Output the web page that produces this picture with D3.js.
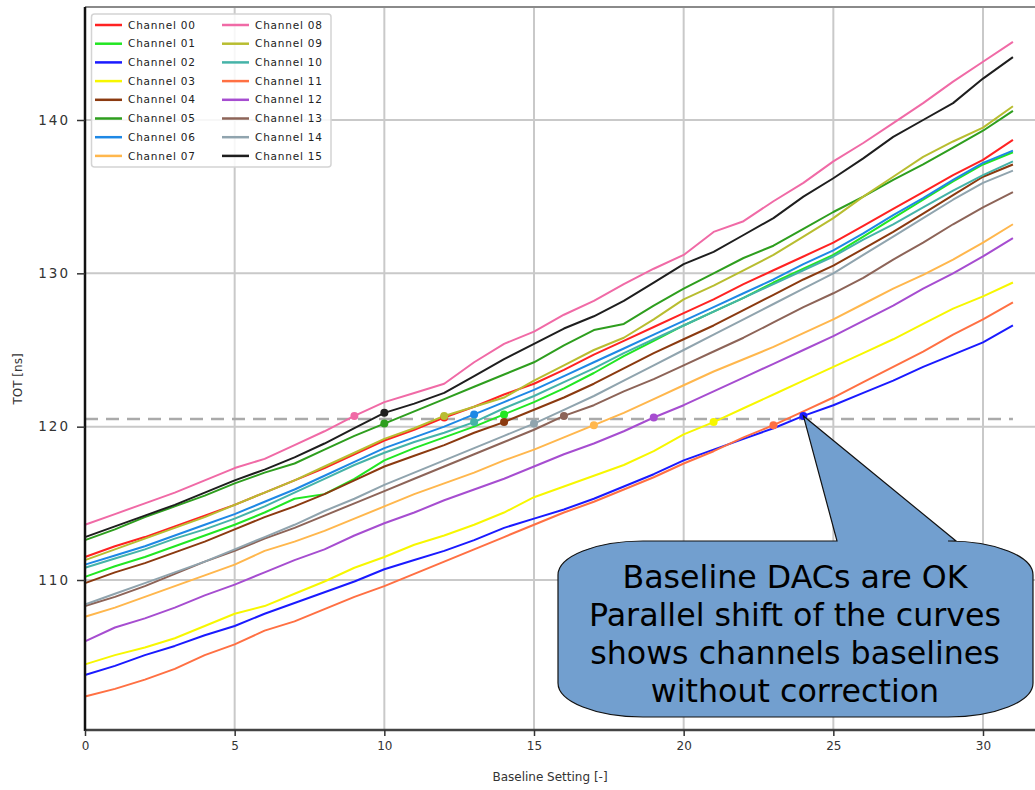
<!DOCTYPE html>
<html>
<head>
<meta charset="utf-8">
<script src="https://cdn.jsdelivr.net/npm/d3@7"></script>
<style>
  body { margin: 0; background: #fff; }
  svg { display: block; }
</style>
</head>
<body>
<div id="chart"></div>
<script>
// Baseline setting (x) and tick labels
const xTicks = [0, 5, 10, 15, 20, 25, 30];
const yTicks = [110, 120, 130, 140];
const targetTOT = 120.5;

const channelNames = ['Channel 00', 'Channel 01', 'Channel 02', 'Channel 03', 'Channel 04', 'Channel 05',
  'Channel 06', 'Channel 07', 'Channel 08', 'Channel 09', 'Channel 10', 'Channel 11',
  'Channel 12', 'Channel 13', 'Channel 14', 'Channel 15'];

const channelColors = ['#ff2222', '#22e622', '#1a1aff', '#f7f700', '#8b3a10', '#2e9e1e',
  '#1e88e5', '#ffb74d', '#f06aa6', '#b8bd30', '#45b3a8', '#ff7043',
  '#a64dd0', '#8d6458', '#90a4ae', '#1e1e1e'];

// TOT [ns] per baseline setting 0..31
const ch00 = [111.5, 112.2, 112.8, 113.5, 114.2, 114.9, 115.7, 116.5, 117.3, 118.2, 119.1, 119.8, 120.6, 121.3, 122.1, 122.8,
  123.7, 124.7, 125.6, 126.5, 127.4, 128.3, 129.3, 130.2, 131.1, 132.0, 133.1, 134.2, 135.3, 136.4, 137.4, 138.7];
const ch01 = [110.2, 110.9, 111.5, 112.2, 112.9, 113.6, 114.4, 115.3, 115.6, 116.6, 117.8, 118.6, 119.3, 120.0, 120.8, 121.6,
  122.5, 123.5, 124.6, 125.6, 126.6, 127.5, 128.4, 129.4, 130.3, 131.2, 132.4, 133.6, 134.8, 136.0, 137.1, 137.9];
const ch02 = [103.8, 104.4, 105.1, 105.7, 106.4, 107.0, 107.8, 108.5, 109.2, 109.9, 110.7, 111.3, 111.9, 112.6, 113.4, 114.0,
  114.6, 115.3, 116.1, 116.9, 117.8, 118.5, 119.2, 119.9, 120.7, 121.4, 122.2, 123.0, 123.9, 124.7, 125.5, 126.6];
const ch03 = [104.5, 105.1, 105.6, 106.2, 107.0, 107.8, 108.3, 109.1, 109.9, 110.8, 111.5, 112.3, 112.9, 113.6, 114.4, 115.4,
  116.1, 116.8, 117.5, 118.4, 119.5, 120.3, 121.2, 122.1, 123.0, 123.9, 124.8, 125.7, 126.7, 127.7, 128.5, 129.4];
const ch04 = [109.8, 110.5, 111.1, 111.8, 112.5, 113.3, 114.1, 114.8, 115.6, 116.5, 117.4, 118.1, 118.8, 119.6, 120.3, 121.1,
  121.9, 122.8, 123.8, 124.8, 125.7, 126.6, 127.6, 128.6, 129.6, 130.5, 131.6, 132.7, 133.9, 135.1, 136.3, 137.1];
const ch05 = [112.6, 113.3, 114.1, 114.8, 115.5, 116.3, 117.0, 117.6, 118.5, 119.4, 120.2, 121.0, 121.8, 122.6, 123.4, 124.2,
  125.3, 126.3, 126.7, 127.9, 129.0, 130.0, 131.0, 131.8, 132.9, 134.0, 135.0, 136.1, 137.1, 138.2, 139.3, 140.6];
const ch06 = [111.0, 111.6, 112.2, 112.9, 113.6, 114.3, 115.1, 115.9, 116.8, 117.7, 118.6, 119.3, 120.0, 120.8, 121.6, 122.4,
  123.3, 124.2, 125.1, 126.0, 126.9, 127.8, 128.7, 129.6, 130.6, 131.5, 132.6, 133.8, 134.9, 136.1, 137.2, 138.0];
const ch07 = [107.6, 108.2, 108.9, 109.6, 110.3, 111.0, 111.9, 112.5, 113.2, 114.0, 114.8, 115.6, 116.3, 117.0, 117.8, 118.5,
  119.3, 120.1, 120.9, 121.8, 122.7, 123.6, 124.4, 125.2, 126.1, 127.0, 128.0, 129.0, 129.9, 130.9, 132.0, 133.2];
const ch08 = [113.6, 114.3, 115.0, 115.7, 116.5, 117.3, 117.9, 118.8, 119.7, 120.7, 121.6, 122.2, 122.8, 124.2, 125.4, 126.2,
  127.3, 128.2, 129.3, 130.3, 131.2, 132.7, 133.4, 134.7, 135.9, 137.3, 138.5, 139.8, 141.1, 142.5, 143.8, 145.1];
const ch09 = [111.3, 112.0, 112.7, 113.4, 114.1, 114.9, 115.7, 116.5, 117.4, 118.3, 119.2, 119.9, 120.7, 121.3, 121.9, 123.0,
  124.0, 125.0, 125.8, 127.0, 128.3, 129.2, 130.2, 131.2, 132.4, 133.6, 135.0, 136.3, 137.6, 138.6, 139.5, 140.9];
const ch10 = [110.8, 111.4, 112.0, 112.7, 113.3, 114.0, 114.8, 115.7, 116.6, 117.5, 118.3, 119.0, 119.6, 120.3, 121.2, 122.0,
  122.9, 123.8, 124.8, 125.7, 126.6, 127.5, 128.4, 129.3, 130.2, 131.1, 132.2, 133.2, 134.3, 135.4, 136.4, 137.3];
const ch11 = [102.4, 102.9, 103.5, 104.2, 105.1, 105.8, 106.7, 107.3, 108.1, 108.9, 109.6, 110.4, 111.2, 112.0, 112.8, 113.6,
  114.4, 115.1, 115.9, 116.7, 117.6, 118.4, 119.3, 120.1, 121.0, 121.9, 122.9, 123.9, 124.9, 126.0, 127.0, 128.1];
const ch12 = [106.0, 106.9, 107.5, 108.2, 109.0, 109.7, 110.5, 111.3, 112.0, 112.9, 113.7, 114.4, 115.2, 115.9, 116.6, 117.4,
  118.2, 118.9, 119.7, 120.6, 121.4, 122.3, 123.2, 124.1, 125.0, 125.9, 126.9, 127.9, 129.0, 130.0, 131.1, 132.3];
const ch13 = [108.3, 108.9, 109.6, 110.4, 111.2, 111.9, 112.7, 113.4, 114.2, 115.0, 115.8, 116.6, 117.4, 118.2, 119.0, 119.8,
  120.7, 121.4, 122.3, 123.1, 124.0, 124.9, 125.8, 126.8, 127.8, 128.7, 129.7, 130.9, 132.0, 133.2, 134.3, 135.3];
const ch14 = [108.4, 109.1, 109.8, 110.5, 111.2, 112.0, 112.8, 113.6, 114.5, 115.3, 116.2, 117.0, 117.8, 118.6, 119.4, 120.2,
  121.1, 122.0, 123.0, 124.0, 125.0, 126.0, 127.0, 128.0, 129.0, 130.0, 131.2, 132.4, 133.6, 134.8, 135.9, 136.7];
const ch15 = [112.8, 113.5, 114.2, 114.9, 115.7, 116.5, 117.2, 118.0, 118.9, 119.9, 120.9, 121.5, 122.2, 123.3, 124.4, 125.4,
  126.4, 127.2, 128.2, 129.4, 130.6, 131.4, 132.5, 133.6, 135.0, 136.2, 137.5, 138.9, 140.0, 141.1, 142.7, 144.1];

const series = [ch00, ch01, ch02, ch03, ch04, ch05, ch06, ch07, ch08, ch09, ch10, ch11, ch12, ch13, ch14, ch15];

// Baseline setting where each channel reaches the target TOT (marked with a dot)
const markSetting = [12, 14, 24, 21, 14, 10, 13, 17, 9, 12, 13, 23, 19, 16, 15, 10];

const calloutLines = ['Baseline DACs are OK', 'Parallel shift of the curves',
  'shows channels baselines', 'without correction'];

const width = 1035;
const height = 790;
const plot = { left: 85, right: 1035, top: 7, bottom: 730 };

const svg = d3.select('#chart')
  .append('svg')
  .attr('width', width)
  .attr('height', height)
  .style('font-family', '"DejaVu Sans", sans-serif');

const x = d3.scaleLinear().domain([0, 30]).range([85, 983]);
const y = d3.scaleLinear().domain([110, 140]).range([580, 120]);

// Grid
const grid = svg.append('g').attr('class', 'grid');
grid.selectAll('.vgrid')
  .data(xTicks.filter(d => d > 0))
  .enter()
  .append('line')
  .attr('x1', d => x(d)).attr('x2', d => x(d))
  .attr('y1', plot.top).attr('y2', plot.bottom)
  .style('stroke', '#c9c9c9')
  .style('stroke-width', '2px');
grid.selectAll('.hgrid')
  .data(yTicks)
  .enter()
  .append('line')
  .attr('x1', plot.left).attr('x2', plot.right)
  .attr('y1', d => y(d)).attr('y2', d => y(d))
  .style('stroke', '#c9c9c9')
  .style('stroke-width', '2px');

// Target TOT line
svg.append('line')
  .attr('x1', x(0)).attr('x2', x(31))
  .attr('y1', y(targetTOT)).attr('y2', y(targetTOT))
  .style('stroke', '#aaaaaa')
  .style('stroke-width', '2.5px')
  .style('stroke-dasharray', '13,8');

// Curves
const line = d3.line()
  .x((d, i) => x(i))
  .y(d => y(d));

svg.append('g')
  .selectAll('path')
  .data(series)
  .enter()
  .append('path')
  .attr('d', line)
  .style('fill', 'none')
  .style('stroke', (d, i) => channelColors[i])
  .style('stroke-width', '2px')
  .style('stroke-linejoin', 'round');

// Marks at the target crossing
svg.append('g')
  .selectAll('circle')
  .data(series)
  .enter()
  .append('circle')
  .attr('cx', (d, i) => x(markSetting[i]))
  .attr('cy', (d, i) => y(d[markSetting[i]]))
  .attr('r', 4)
  .style('fill', (d, i) => channelColors[i]);

// Spines
svg.append('line')
  .attr('x1', plot.left).attr('x2', plot.right)
  .attr('y1', plot.top).attr('y2', plot.top)
  .style('stroke', '#8a8a8a')
  .style('stroke-width', '2px');
svg.append('line')
  .attr('x1', plot.left).attr('x2', plot.right)
  .attr('y1', plot.bottom).attr('y2', plot.bottom)
  .style('stroke', '#444')
  .style('stroke-width', '2.5px');
svg.append('line')
  .attr('x1', plot.left).attr('x2', plot.left)
  .attr('y1', plot.top).attr('y2', plot.bottom + 1)
  .style('stroke', '#111')
  .style('stroke-width', '2.5px');

// Axes
const xAxis = svg.append('g')
  .attr('transform', `translate(0, ${plot.bottom})`)
  .call(d3.axisBottom(x).tickValues(xTicks).tickSize(6).tickPadding(5));
xAxis.select('.domain').remove();
xAxis.selectAll('line').style('stroke', '#333').style('stroke-width', '1.5px');
xAxis.selectAll('text')
  .style('font-family', '"DejaVu Sans", sans-serif')
  .style('font-size', '12px')
  .style('fill', '#333');

const yAxis = svg.append('g')
  .attr('transform', `translate(${plot.left}, 0)`)
  .call(d3.axisLeft(y).tickValues(yTicks).tickSize(8).tickPadding(7));
yAxis.select('.domain').remove();
yAxis.selectAll('line').style('stroke', '#333').style('stroke-width', '1.5px');
yAxis.selectAll('text')
  .style('font-family', '"DejaVu Sans", sans-serif')
  .style('font-size', '13.5px')
  .style('letter-spacing', '2px')
  .style('fill', '#333');

svg.append('text')
  .attr('x', 550)
  .attr('y', 781)
  .attr('text-anchor', 'middle')
  .style('font-size', '12px')
  .style('fill', '#333')
  .text('Baseline Setting [-]');

svg.append('text')
  .attr('transform', 'translate(22, 379) rotate(-90)')
  .attr('text-anchor', 'middle')
  .style('font-size', '12px')
  .style('fill', '#333')
  .text('TOT [ns]');

// Legend
const legend = svg.append('g');
legend.append('rect')
  .attr('x', 91.5).attr('y', 14)
  .attr('width', 239.5).attr('height', 153)
  .attr('rx', 3)
  .style('fill', '#fff')
  .style('fill-opacity', 0.85)
  .style('stroke', '#d4d4d4')
  .style('stroke-width', '1.5px');

const item = legend.selectAll('.item')
  .data(channelNames)
  .enter()
  .append('g')
  .attr('class', 'item')
  .attr('transform', (d, i) => `translate(${i < 8 ? 95 : 222}, ${25 + (i % 8) * 18.7})`);
item.append('line')
  .attr('x1', 0).attr('x2', 27)
  .style('stroke', (d, i) => channelColors[i])
  .style('stroke-width', '2.5px');
item.append('text')
  .attr('x', 33)
  .attr('dy', '0.35em')
  .style('font-size', '10.5px')
  .style('letter-spacing', '0.8px')
  .style('fill', '#222')
  .text(d => d);

// Callout pointing at channel 02 mark
const box = { x0: 558, x1: 1033, y0: 541, y1: 717, rx: 85, ry: 34 };
const tipX = x(markSetting[2]);
const tipY = y(ch02[markSetting[2]]);
const calloutPath = [
  `M${box.x0 + box.rx},${box.y0}`,
  `L837,${box.y0}`,
  `L${tipX},${tipY}`,
  `L956,${box.y0}`,
  `L${box.x1 - box.rx},${box.y0}`,
  `A${box.rx},${box.ry} 0 0 1 ${box.x1},${box.y0 + box.ry}`,
  `L${box.x1},${box.y1 - box.ry}`,
  `A${box.rx},${box.ry} 0 0 1 ${box.x1 - box.rx},${box.y1}`,
  `L${box.x0 + box.rx},${box.y1}`,
  `A${box.rx},${box.ry} 0 0 1 ${box.x0},${box.y1 - box.ry}`,
  `L${box.x0},${box.y0 + box.ry}`,
  `A${box.rx},${box.ry} 0 0 1 ${box.x0 + box.rx},${box.y0}`,
  'Z'
].join(' ');

svg.append('path')
  .attr('d', calloutPath)
  .style('fill', '#729fcf')
  .style('stroke', '#111')
  .style('stroke-width', '1.2px');

const calloutText = svg.append('g')
  .selectAll('text')
  .data(calloutLines)
  .enter()
  .append('text')
  .attr('x', 795)
  .attr('y', (d, i) => 588 + i * 38)
  .attr('text-anchor', 'middle')
  .style('font-size', '30px')
  .style('fill', '#000')
  .text(d => d);

// fit font so the widest line spans ~412px like the reference
const widest = d3.max(calloutText.nodes(), n => n.getComputedTextLength());
calloutText.style('font-size', (30 * 412 / widest).toFixed(2) + 'px');
</script>
</body>
</html>
